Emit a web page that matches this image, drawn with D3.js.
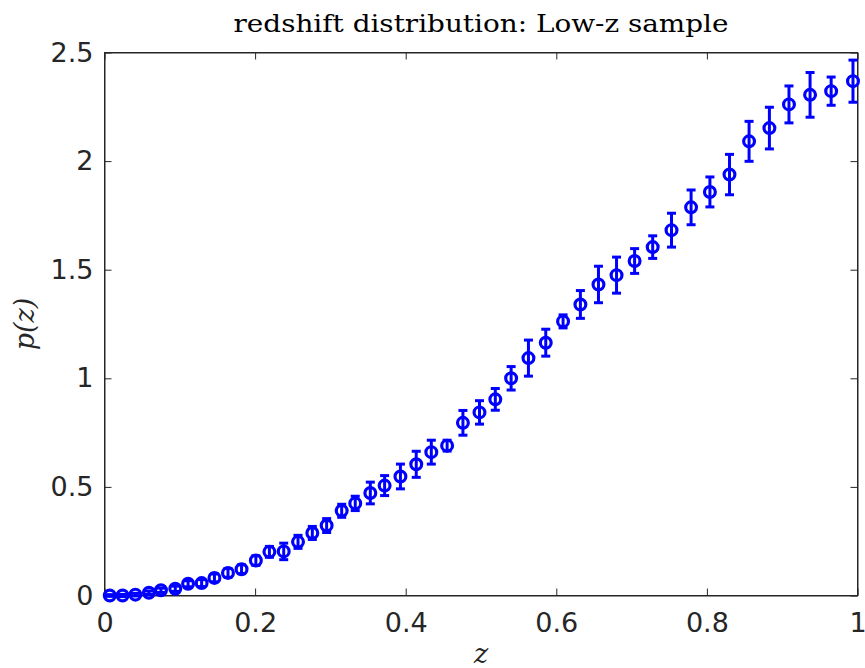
<!DOCTYPE html>
<html lang="en">
<head>
	<meta charset="UTF-8"/>
	<title>redshift distribution: Low-z sample</title>
	<script src="https://d3js.org/d3.v7.min.js"></script>
	<style>
		body {
			margin: 0;
			background-color: #FFFFFF;
		}
		.tick text {
			font-family: "DejaVu Sans", sans-serif;
			fill: #262626;
		}
	</style>
</head>
<body>
	<div id="chart"></div>
	<script>
		// redshift bin centres (z)
		var zValues = [0.007, 0.024, 0.041, 0.059, 0.075, 0.094, 0.111, 0.129, 0.146, 0.164,
			0.182, 0.201, 0.219, 0.238, 0.257, 0.276, 0.295, 0.315, 0.333, 0.353,
			0.372, 0.393, 0.414, 0.434, 0.455, 0.476, 0.498, 0.519, 0.540, 0.563,
			0.586, 0.609, 0.632, 0.656, 0.680, 0.704, 0.728, 0.753, 0.779, 0.804,
			0.830, 0.856, 0.883, 0.909, 0.937, 0.965, 0.994];

		// p(z) in each bin
		var pzValues = [0.0, 0.0, 0.004, 0.013, 0.024, 0.031, 0.054, 0.057, 0.081, 0.104,
			0.121, 0.161, 0.201, 0.203, 0.247, 0.288, 0.322, 0.39, 0.424, 0.472,
			0.506, 0.548, 0.604, 0.66, 0.69, 0.795, 0.843, 0.903, 1.0, 1.093,
			1.164, 1.262, 1.34, 1.432, 1.475, 1.54, 1.604, 1.682, 1.787, 1.858,
			1.938, 2.091, 2.152, 2.261, 2.305, 2.322, 2.368];

		// error bar half-length
		var pzErrors = [0.004, 0.005, 0.006, 0.008, 0.01, 0.012, 0.014, 0.016, 0.018, 0.02,
			0.02, 0.022, 0.025, 0.038, 0.03, 0.03, 0.032, 0.03, 0.033, 0.05,
			0.046, 0.057, 0.06, 0.055, 0.025, 0.057, 0.054, 0.05, 0.054, 0.083,
			0.062, 0.03, 0.064, 0.084, 0.083, 0.057, 0.052, 0.078, 0.08, 0.069,
			0.093, 0.092, 0.096, 0.085, 0.103, 0.065, 0.097];

		var xTicks = [0, 0.2, 0.4, 0.6, 0.8, 1];
		var yTicks = [0, 0.5, 1, 1.5, 2, 2.5];

		var dataset = zValues.map(function (z, i) {
			return {z: z, p: pzValues[i], e: pzErrors[i]};
		});

		var w = 865;
		var h = 668;
		// plot box edges (note: "top" is reserved on window, so use plotTop etc.)
		var plotLeft = 104.5, plotRight = 857.5, plotTop = 52.5, plotBottom = 595.5;
		var blue = "#0000FF";
		var axisColor = "#262626";

		var xScale = d3.scaleLinear().domain([0, 1]).range([plotLeft, plotRight]);
		var yScale = d3.scaleLinear().domain([0, 2.5]).range([plotBottom, plotTop]);

		var svg = d3.select("#chart")
			.append("svg")
			.attr("width", w)
			.attr("height", h);

		// x axis (bottom, labelled) and mirrored top
		var xAxis = d3.axisBottom(xScale).tickValues(xTicks)
			.tickFormat(d3.format("~g"))
			.tickSizeInner(-7).tickSizeOuter(0).tickPadding(17);
		svg.append("g")
			.attr("transform", "translate(0," + plotBottom + ")")
			.call(xAxis)
			.attr("font-size", 27);
		svg.append("g")
			.attr("transform", "translate(0," + plotTop + ")")
			.call(d3.axisTop(xScale).tickValues(xTicks).tickFormat("")
				.tickSizeInner(-7).tickSizeOuter(0));

		// y axis (left, labelled) and mirrored right
		var yAxis = d3.axisLeft(yScale).tickValues(yTicks)
			.tickFormat(d3.format("~g"))
			.tickSizeInner(-7).tickSizeOuter(0).tickPadding(11);
		svg.append("g")
			.attr("transform", "translate(" + plotLeft + ",0)")
			.call(yAxis)
			.attr("font-size", 27);
		svg.append("g")
			.attr("transform", "translate(" + plotRight + ",0)")
			.call(d3.axisRight(yScale).tickValues(yTicks).tickFormat("")
				.tickSizeInner(-7).tickSizeOuter(0));

		svg.selectAll(".domain, .tick line")
			.attr("stroke", axisColor)
			.attr("stroke-width", 1);

		// box round the plot
		svg.append("rect")
			.attr("x", plotLeft).attr("y", plotTop)
			.attr("width", plotRight - plotLeft).attr("height", plotBottom - plotTop)
			.attr("fill", "none")
			.attr("stroke", axisColor)
			.attr("stroke-width", 1);

		// error bars
		var bars = svg.append("g")
			.attr("stroke", blue)
			.attr("stroke-width", 3);
		bars.selectAll(".bar")
			.data(dataset)
			.enter()
			.append("line")
			.attr("x1", function (d) { return xScale(d.z); })
			.attr("x2", function (d) { return xScale(d.z); })
			.attr("y1", function (d) { return yScale(d.p - d.e); })
			.attr("y2", function (d) { return yScale(d.p + d.e); });
		// caps
		bars.selectAll(".capTop")
			.data(dataset)
			.enter()
			.append("line")
			.attr("x1", function (d) { return xScale(d.z) - 4.5; })
			.attr("x2", function (d) { return xScale(d.z) + 4.5; })
			.attr("y1", function (d) { return yScale(d.p + d.e); })
			.attr("y2", function (d) { return yScale(d.p + d.e); });
		bars.selectAll(".capBottom")
			.data(dataset)
			.enter()
			.append("line")
			.attr("x1", function (d) { return xScale(d.z) - 4.5; })
			.attr("x2", function (d) { return xScale(d.z) + 4.5; })
			.attr("y1", function (d) { return yScale(d.p - d.e); })
			.attr("y2", function (d) { return yScale(d.p - d.e); });

		// circle markers
		svg.selectAll("circle")
			.data(dataset)
			.enter()
			.append("circle")
			.attr("cx", function (d) { return xScale(d.z); })
			.attr("cy", function (d) { return yScale(d.p); })
			.attr("r", 5.4)
			.attr("fill", "none")
			.attr("stroke", blue)
			.attr("stroke-width", 3.2);

		// title
		svg.append("text")
			.attr("x", (plotLeft + plotRight) / 2)
			.attr("y", 32)
			.attr("text-anchor", "middle")
			.attr("font-family", "'DejaVu Serif', serif")
			.attr("font-size", 24)
			.attr("textLength", 495)
			.attr("lengthAdjust", "spacingAndGlyphs")
			.attr("fill", "#000")
			.text("redshift distribution: Low-z sample");

		// x-axis label
		svg.append("text")
			.attr("x", (plotLeft + plotRight) / 2)
			.attr("y", 663)
			.attr("text-anchor", "middle")
			.attr("font-family", "'DejaVu Serif', serif")
			.attr("font-style", "italic")
			.attr("font-size", 27)
			.attr("fill", "#262626")
			.text("z");

		// y-axis label
		svg.append("text")
			.attr("transform", "translate(34," + (plotTop + plotBottom) / 2 + ") rotate(-90)")
			.attr("text-anchor", "middle")
			.attr("font-family", "'DejaVu Serif', serif")
			.attr("font-style", "italic")
			.attr("font-size", 27)
			.attr("fill", "#262626")
			.text("p(z)");
	</script>
</body>
</html>
